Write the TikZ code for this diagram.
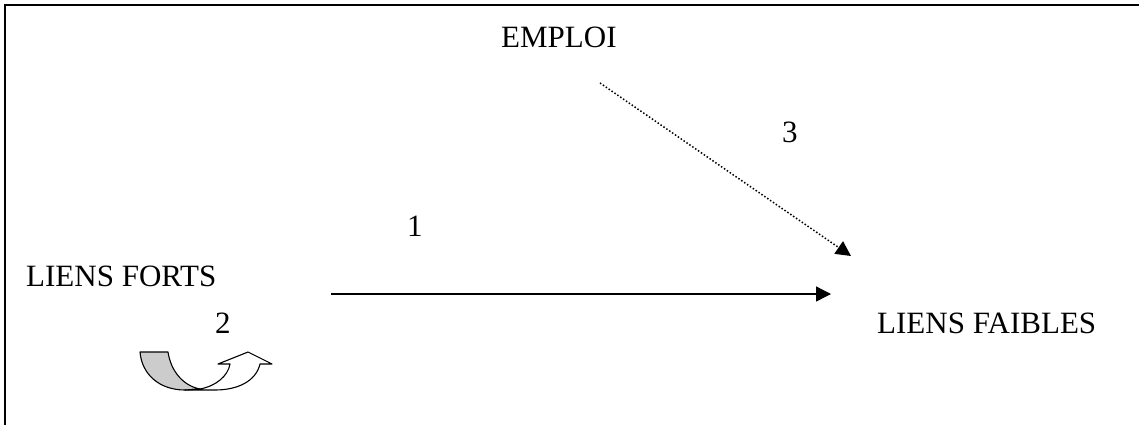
\documentclass[tikz,border=0pt]{standalone}
\usepackage{fontspec}
\setmainfont{Liberation Serif}
\usetikzlibrary{arrows.meta}
\begin{document}
\begin{tikzpicture}[x=1pt,y=-1pt,
  lbl/.style={inner sep=0pt,anchor=base west,font=\fontsize{31}{37}\selectfont},
  conn/.style={line width=1.4pt,-{Triangle[length=15pt,width=15pt]}},
  dotconn/.style={line width=1.5pt,dash pattern=on 1.5pt off 2pt,-{Triangle[length=15pt,width=15pt]}},
  frame/.style={line width=2pt},
  uturn/.style={line width=1.1pt,line join=round}]
\useasboundingbox (0,0) rectangle (1139,424);
\draw[frame] (5,440) -- (5,5) -- (1150,5);
\node[lbl] (emploi) at (501,47) {EMPLOI};
\node[lbl] (forts) at (26,286) {LIENS FORTS};
\node[lbl] (faibles) at (877,333) {LIENS FAIBLES};
\node[lbl] (one) at (407,236) {1};
\node[lbl] (two) at (215,333) {2};
\node[lbl] (three) at (782,142) {3};
\coordinate (hs) at (331,294);
\coordinate (he) at (831,294);
\coordinate (ds) at (600,83);
\coordinate (de) at (851,256);
\draw[conn] (hs) -- (he);
\draw[dotconn] (ds) -- (de);
% U-turn arrow
\draw[uturn,fill=black!20] (140,352) -- (168,352)
  .. controls (171,372) and (184,386) .. (200,389)
  -- (185,390)
  .. controls (160,390) and (142,375) .. (140,352) -- cycle;
\draw[uturn,fill=white] (200,389)
  .. controls (216,386) and (228,376) .. (230,364)
  -- (218,364) -- (248,352) -- (272,364) -- (260,364)
  .. controls (256,381) and (238,390) .. (215,390)
  -- (185,390) -- cycle;
\end{tikzpicture}
\end{document}
